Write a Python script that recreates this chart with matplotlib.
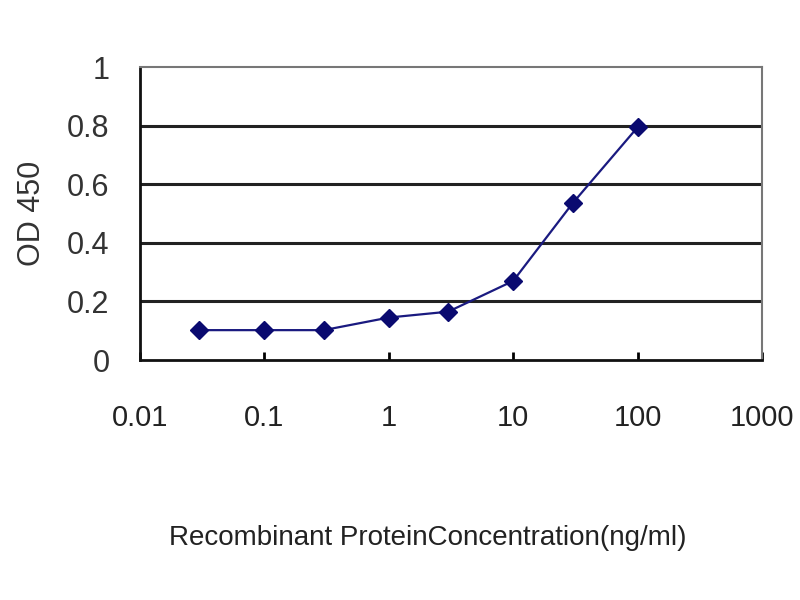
import numpy as np
import matplotlib
matplotlib.use("Agg")
import matplotlib.pyplot as plt

# concentration (ng/ml) and OD450
conc = [0.03, 0.1, 0.3, 1, 3, 10, 30, 100]
od450 = [0.102, 0.102, 0.102, 0.145, 0.165, 0.27, 0.535, 0.795]

xticks = [0.01, 0.1, 1, 10, 100, 1000]
xtick_labels = ["0.01", "0.1", "1", "10", "100", "1000"]
yticks = [0, 0.2, 0.4, 0.6, 0.8, 1]
ytick_labels = ["0", "0.2", "0.4", "0.6", "0.8", "1"]

plt.rcParams['font.family'] = ['Liberation Sans', 'DejaVu Sans']

fig = plt.figure(figsize=(8, 6), dpi=100)
ax = fig.add_axes([0.175, 0.4, 0.7775, 0.488])

ax.set_xscale("log")
ax.set_xlim(0.01, 1000)
ax.set_ylim(0, 1)

# horizontal gridlines
for y in yticks[1:-1]:
    ax.axhline(y, color="#222222", lw=2.2, zorder=1)

ax.plot(conc, od450, color="#1a1a80", lw=1.6, marker="D", ms=9,
        markerfacecolor="#0a0a70", markeredgecolor="#0a0a70", zorder=3)

ax.set_xticks(xticks)
ax.set_xticklabels(xtick_labels)
ax.xaxis.set_minor_locator(matplotlib.ticker.NullLocator())
ax.set_yticks(yticks)
ax.set_yticklabels(ytick_labels)

ax.tick_params(axis="x", labelsize=21, direction="in", length=6, width=2,
               pad=32, labelcolor="#222222")
ax.tick_params(axis="y", labelsize=22, length=0, pad=22, labelcolor="#333333")

ax.spines["left"].set_linewidth(2)
ax.spines["bottom"].set_linewidth(2)
ax.spines["left"].set_color("#111111")
ax.spines["bottom"].set_color("#111111")
ax.spines["top"].set_color("#777777")
ax.spines["right"].set_color("#777777")
ax.spines["top"].set_linewidth(1.5)
ax.spines["right"].set_linewidth(1.5)

ax.set_ylabel("OD 450", fontsize=22, labelpad=14, color="#333333")
fig.text(0.535, 0.103, "Recombinant ProteinConcentration(ng/ml)", fontsize=20,
         ha="center", va="center", color="#222222")

fig.savefig("out.png", dpi=100, facecolor="white")
